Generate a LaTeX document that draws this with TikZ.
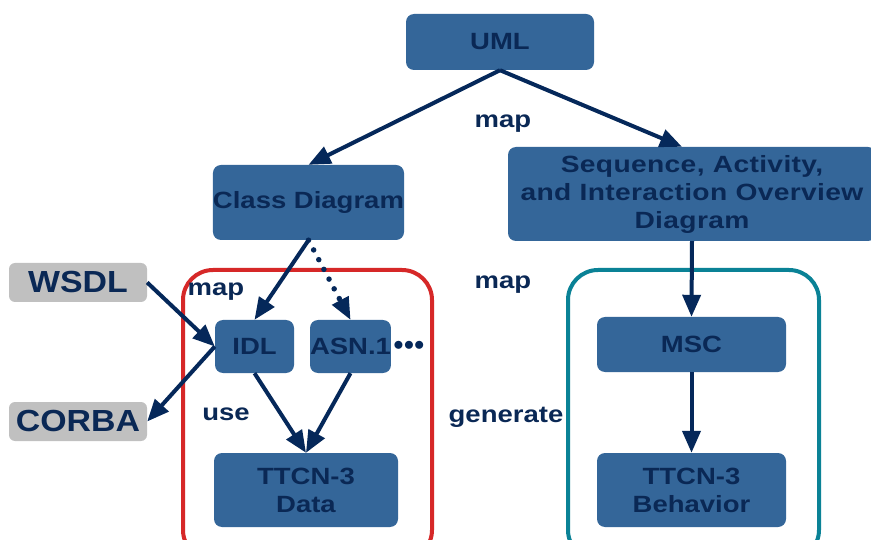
\documentclass[tikz,border=0pt]{standalone}
\usepackage{fontspec}
\setmainfont{Liberation Sans}
\usetikzlibrary{arrows.meta,calc}
\definecolor{boxblue}{RGB}{52,102,153}
\definecolor{navy}{RGB}{10,40,85}
\definecolor{arrowc}{RGB}{5,40,90}
\definecolor{lgray}{RGB}{192,192,192}
\definecolor{frame red}{RGB}{214,40,40}
\definecolor{frame teal}{RGB}{10,130,150}
\newfontfamily\boxfont[FakeStretch=1.17]{Liberation Sans}
\newfontfamily\widefont[FakeStretch=1.2,LetterSpace=1.5]{Liberation Sans}
\newfontfamily\extfont[FakeStretch=1.11]{Liberation Sans}
\tikzset{
  blk/.style={draw=none, fill=boxblue, rounded corners=8pt, inner sep=0pt,
    text=navy, font=\boxfont\fontsize{23.5}{28}\selectfont\bfseries, align=center},
  ext/.style={draw=none, fill=lgray, rounded corners=6pt, inner sep=0pt,
    text=navy, font=\extfont\fontsize{30.5}{34}\selectfont\bfseries},
  lbl/.style={text=navy, font=\boxfont\fontsize{23.5}{28}\selectfont\bfseries, inner sep=0pt},
  flow/.style={draw=arrowc, line width=4pt, -{Triangle[length=22pt,width=18pt]}},
  dots/.style={draw=arrowc, line width=5.5pt, line cap=round, dash pattern=on 0pt off 11pt,
    shorten >=22pt},
  frame/.style={line width=4pt, rounded corners=30pt}
}
\begin{document}
\begin{tikzpicture}[x=1pt,y=-1pt]
\useasboundingbox (0,0) rectangle (871,540);
\fill[white] (0,0) rectangle (871,540);

% group frames
\draw[frame, draw=frame red] (183,270) rectangle (432,560);
\draw[frame, draw=frame teal] (568,270) rectangle (819,560);

% blocks
\node[blk, minimum width=188pt, minimum height=56pt] (uml) at (500,42) {UML};
\node[blk, minimum width=189pt, minimum height=75pt] (cd) at (308.5,202.5) {Class Diagram};
\node[blk, minimum width=368pt, minimum height=94pt, font=\widefont\fontsize{23.5}{28}\selectfont\bfseries] (seq) at (692,194)
  {Sequence, Activity,\\and Interaction Overview\\Diagram};
\node[blk, minimum width=79pt, minimum height=53pt] (idl) at (254.5,346.5) {IDL};
\node[blk, minimum width=79pt, minimum height=53pt] (asn) at (350.5,346.5) {ASN.1};
\node[blk, minimum width=184pt, minimum height=74pt] (data) at (306,490) {TTCN-3\\Data};
\node[blk, minimum width=189pt, minimum height=55pt] (msc) at (691.5,344.5) {MSC};
\node[blk, minimum width=189pt, minimum height=74pt] (beh) at (691.5,490) {TTCN-3\\Behavior};

% external technologies
\node[ext, minimum width=138pt, minimum height=39pt] (wsdl) at (78,282.5) {WSDL};
\node[ext, minimum width=138pt, minimum height=39pt] (corba) at (78,421.5) {CORBA};

% labels
\node[lbl] (lmap1) at (503,124) {map};
\node[lbl] (lmap2) at (216,292) {map};
\node[lbl] (lmap3) at (503,285) {map};
\node[lbl] (luse) at (226,414) {use};
\node[lbl] (lgen) at (506,417) {generate};
\node[text=arrowc, font=\fontsize{22}{22}\selectfont, inner sep=0pt] (more) at (409,346) {${\bullet}{\bullet}{\bullet}$};

% connectors
\draw[flow] (uml.south) -- (cd.north);
\draw[flow] (uml.south) -- ([xshift=-10pt]seq.north);
\draw[flow] (cd.south) -- (idl.north);
\draw[dots] (cd.south) -- (asn.north);
\draw[flow] ($(asn.north)!22pt!(cd.south)$) -- (asn.north);
\draw[flow] (wsdl.east) -- (idl.west);
\draw[flow] (idl.west) -- (corba.east);
\draw[flow] (idl.south) -- (data.north);
\draw[flow] (asn.south) -- (data.north);
\draw[flow] (seq.south) -- (msc.north);
\draw[flow] (msc.south) -- (beh.north);
\end{tikzpicture}
\end{document}
